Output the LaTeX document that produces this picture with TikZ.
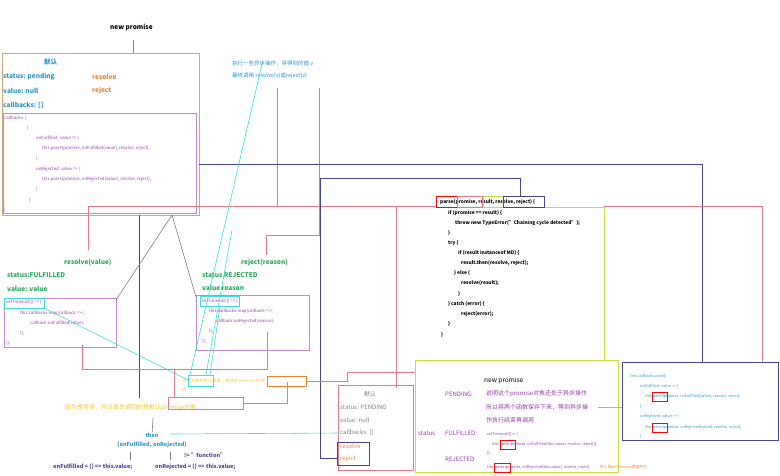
\documentclass[tikz,border=0pt]{standalone}
\usepackage{fontspec}
\setmainfont{Noto Sans CJK SC}
\usepackage{tikz}
\usetikzlibrary{positioning}
\definecolor{tblue}{RGB}{40,150,200}
\definecolor{torange}{RGB}{235,130,50}
\definecolor{tgreen}{RGB}{40,170,90}
\definecolor{tpurple}{RGB}{150,60,170}
\definecolor{tnavy}{RGB}{70,70,150}
\definecolor{tpink}{RGB}{225,120,140}
\definecolor{tcyan}{RGB}{60,220,220}
\definecolor{tlime}{RGB}{200,220,60}
\definecolor{tgold}{RGB}{245,200,40}
\begin{document}
\begin{tikzpicture}[x=1pt,y=-1pt]
  \tikzset{TextStyle/.style = {
    anchor     = west,
    inner sep  = 0pt,
    font       = \fontsize{6.5}{7}\selectfont\bfseries
    }
  }
  \tikzset{CodeStyle/.style = {
    anchor     = west,
    inner sep  = 0pt,
    text       = tpurple,
    font       = \fontsize{4.3}{5}\selectfont
    }
  }
  \tikzset{ParseStyle/.style = {
    anchor     = west,
    inner sep  = 0pt,
    text       = black,
    font       = \fontsize{4.8}{5}\selectfont\bfseries
    }
  }
  \tikzset{BoxStyle/.style = {
    draw       = #1,
    line width = 0.6pt
    }
  }
  \tikzset{LineStyle/.style = {
    draw       = #1,
    line width = 0.6pt
    }
  }
  \useasboundingbox (0,0) rectangle (780,475);

  % top left promise
  \node[TextStyle](NP) at (110,27) {new promise};
  \draw[BoxStyle=brown!70] (2,53) rectangle (199,215);
  \coordinate (NPtop) at (133,53);
  \draw[LineStyle=gray] (133,40) -- (NPtop);
  \node[TextStyle,text=tblue](D1) at (44,62) {默认};
  \node[TextStyle,text=tblue](S1) at (3,77) {status:  pending};
  \node[TextStyle,text=tblue](V1) at (3,91) {value:  null};
  \node[TextStyle,text=tblue](C1) at (3,105) {callbacks:  []};
  \node[TextStyle,text=torange](R1) at (92,77) {resolve};
  \node[TextStyle,text=torange](J1) at (92,91) {reject};
  \draw[BoxStyle=tpurple!60] (3,113) rectangle (196,213);
  \node[CodeStyle] at (4,118) {callbacks: [};
  \node[CodeStyle] at (27,128) {\{};
  \node[CodeStyle] at (36,138) {onFulfilled: value => \{};
  \node[CodeStyle] at (42,148) {this.parse(promise, onFulfilled(value), resolve, reject);};
  \node[CodeStyle] at (36,158) {\},};
  \node[CodeStyle] at (36,169) {onRejected: value => \{};
  \node[CodeStyle] at (42,179) {this.parse(promise, onRejected(value), resolve, reject);};
  \node[CodeStyle] at (36,189) {\}};
  \node[CodeStyle] at (29,200) {\}};
  \node[CodeStyle] at (4,210) {]};

  % async note
  \node[TextStyle,text=tblue,font=\fontsize{5.5}{6}\selectfont](AS1) at (232,63) {执行一些异步操作，将得到的值 v};
  \node[TextStyle,text=tblue,font=\fontsize{5.5}{6}\selectfont](AS2) at (232,76) {最终调用 resolve(v)或reject(v)};

  % fulfilled
  \node[TextStyle,text=tgreen](RV) at (64,262) {resolve(value)};
  \node[TextStyle,text=tgreen](SF) at (7,275) {status:FULFILLED};
  \node[TextStyle,text=tgreen](VF) at (7,289) {value:   value};
  \draw[BoxStyle=tpurple!60] (4,298) rectangle (116,347);
  \draw[BoxStyle=tcyan] (4,298) rectangle (44,308);
  \node[CodeStyle] at (6,302) {setTimeout(() => \{};
  \node[CodeStyle] at (20,313) {this.callbacks.map(callback => \{};
  \node[CodeStyle] at (30,323) {callback.onFulfilled(value);};
  \node[CodeStyle] at (20,333) {\});};
  \node[CodeStyle] at (6,343) {\});};

  % rejected
  \node[TextStyle,text=tgreen](RR) at (241,262) {reject(reason)};
  \node[TextStyle,text=tgreen](SR) at (202,275) {status REJECTED};
  \node[TextStyle,text=tgreen](VR) at (202,288) {value reason};
  \draw[BoxStyle=tpurple!60] (196,295) rectangle (309,350);
  \draw[BoxStyle=tcyan] (200,296) rectangle (239,306);
  \node[CodeStyle] at (202,301) {setTimeout(() => \{};
  \node[CodeStyle] at (209,311) {this.callbacks.map(callback => \{};
  \node[CodeStyle] at (216,321) {callback.onRejected(reason);};
  \node[CodeStyle] at (209,331) {\});};
  \node[CodeStyle] at (202,341) {\});};

  % centre notes
  \draw[BoxStyle=tcyan] (188,375) rectangle (213,386);
  \node[CodeStyle,text=tgold](NT) at (182,381) {当以下操作执行结束，将决定 promise 的状};
  \node[CodeStyle,text=tgold] at (182,390) {态};
  \draw[BoxStyle=torange] (267,376) rectangle (306,386);
  \draw[BoxStyle=tpink] (168,397) rectangle (243,409);
  \node[TextStyle,text=tgold,font=\fontsize{6}{6}\selectfont](AY) at (65,408) {因为是异步，所以首先返回的是默认promise对象};

  % then
  \node[TextStyle,text=tblue,font=\fontsize{5.5}{6}\selectfont\bfseries,anchor=center](TH) at (152,435) {then};
  \node[TextStyle,text=tblue,font=\fontsize{5.5}{6}\selectfont\bfseries,anchor=center](TA) at (152,445) {(onFulfilled, onRejected)};
  \node[TextStyle,text=tnavy,font=\fontsize{5.5}{6}\selectfont\bfseries](NF) at (184,455) {!= "function"};
  \node[TextStyle,text=tnavy,font=\fontsize{5.5}{6}\selectfont\bfseries](OF) at (53,467) {onFulfilled = () => this.value;};
  \node[TextStyle,text=tnavy,font=\fontsize{5.5}{6}\selectfont\bfseries](OR) at (155,467) {onRejected = () => this.value;};
  \draw[LineStyle=gray] (153,418) -- (TH);
  \draw[LineStyle=gray] (130,452) -- (130,460);
  \draw[LineStyle=gray] (170,452) -- (170,460);

  % default promise box
  \draw[BoxStyle=tpink] (338,385) rectangle (413,470);
  \node[TextStyle,font=\fontsize{6}{6}\selectfont,text=gray,anchor=center](D2) at (370,394) {默认};
  \node[TextStyle,font=\fontsize{6}{6}\selectfont,text=gray](S2) at (340,407) {status: PENDING};
  \node[TextStyle,font=\fontsize{6}{6}\selectfont,text=gray](V2) at (340,420) {value: null};
  \node[TextStyle,font=\fontsize{6}{6}\selectfont,text=gray](C2) at (340,433) {callbacks: []};
  \node[TextStyle,font=\fontsize{6}{6}\selectfont,text=torange](R2) at (340,446) {resolve};
  \node[TextStyle,font=\fontsize{6}{6}\selectfont,text=torange](J2) at (340,459) {reject};
  \draw[BoxStyle=tnavy] (337,442) rectangle (369,465);
  \draw[LineStyle=tcyan] (170,434) -- (C2.west);

  % parse code
  \draw[LineStyle=tlime] (493,207) -- (604,207) -- (604,360);
  \node[ParseStyle](PA) at (440,202) {parse(promise, result, resolve, reject) \{};
  \draw[BoxStyle=red] (436,196) rectangle (457,207);
  \draw[BoxStyle=tpink] (457,196) rectangle (482,207);
  \draw[BoxStyle=tlime] (483,196) rectangle (503,207);
  \draw[BoxStyle=tnavy] (503,196) rectangle (544,207);
  \node[ParseStyle] at (448,213) {if (promise == result) \{};
  \node[ParseStyle] at (455,223) {throw new TypeError("Chaining cycle detected");};
  \node[ParseStyle] at (448,233) {\}};
  \node[ParseStyle] at (448,243) {try \{};
  \node[ParseStyle] at (458,253) {if (result instanceof MD) \{};
  \node[ParseStyle] at (461,263) {result.then(resolve, reject);};
  \node[ParseStyle] at (454,273) {\} else \{};
  \node[ParseStyle] at (461,283) {resolve(result);};
  \node[ParseStyle] at (458,294) {\}};
  \node[ParseStyle] at (448,304) {\} catch (error) \{};
  \node[ParseStyle] at (461,314) {reject(error);};
  \node[ParseStyle] at (448,324) {\}};
  \node[ParseStyle] at (441,335) {\}};

  % new promise explanation
  \draw[BoxStyle=tlime] (415,360) rectangle (618,472);
  \node[TextStyle,font=\fontsize{6.5}{6}\selectfont,text=black](NP2) at (484,381) {new promise};
  \node[TextStyle,font=\fontsize{6}{6}\selectfont,text=tpurple] at (445,394) {PENDING:};
  \node[TextStyle,font=\fontsize{6}{6}\selectfont,text=tpurple] at (486,394) {说明这个promise对象还处于异步操作};
  \node[TextStyle,font=\fontsize{6}{6}\selectfont,text=tpurple] at (486,407) {所以将两个函数保存下来，等到异步操};
  \node[TextStyle,font=\fontsize{6}{6}\selectfont,text=tpurple] at (486,420) {作执行结束再调用};
  \node[TextStyle,font=\fontsize{6}{6}\selectfont,text=tpurple] at (418,433) {status};
  \node[TextStyle,font=\fontsize{6}{6}\selectfont,text=tpurple] at (445,433) {FULFILLED:};
  \node[CodeStyle,font=\fontsize{3.8}{4}\selectfont] at (487,434) {setTimeout(() => \{};
  \node[CodeStyle,font=\fontsize{3.8}{4}\selectfont] at (492,444) {this.parse(promise, onFulfilled(this.value), resolve, reject)\});};
  \draw[BoxStyle=red] (500,440) rectangle (515,449);
  \node[CodeStyle,font=\fontsize{3.8}{4}\selectfont] at (487,453) {\});};
  \node[TextStyle,font=\fontsize{6}{6}\selectfont,text=tpurple] at (445,459) {REJECTED};
  \node[CodeStyle,font=\fontsize{3.8}{4}\selectfont] at (487,467) {this.parse(promise, onRejected(this.value), resolve, reject)};
  \node[CodeStyle,font=\fontsize{3.8}{4}\selectfont,text=torange] at (600,467) {把上面setTimeout里面的代};
  \draw[BoxStyle=red] (494,463) rectangle (510,472);

  % callbacks push box
  \draw[BoxStyle=tnavy,line width=1pt] (622,362) rectangle (778,440);
  \node[CodeStyle,text=tblue,font=\fontsize{3.8}{4}\selectfont] at (630,376) {this.callbacks.push(\{};
  \node[CodeStyle,text=tblue,font=\fontsize{3.8}{4}\selectfont] at (640,386) {onFulfilled: value => \{};
  \node[CodeStyle,text=tblue,font=\fontsize{3.8}{4}\selectfont] at (645,396) {this.parse(promise, onFulfilled(value), resolve, reject);};
  \draw[BoxStyle=red] (652,392) rectangle (667,401);
  \node[CodeStyle,text=tblue,font=\fontsize{3.8}{4}\selectfont] at (640,406) {\},};
  \node[CodeStyle,text=tblue,font=\fontsize{3.8}{4}\selectfont] at (640,416) {onRejected: value => \{};
  \node[CodeStyle,text=tblue,font=\fontsize{3.8}{4}\selectfont] at (645,427) {this.parse(promise, onRejected(value), resolve, reject);};
  \draw[BoxStyle=red] (652,423) rectangle (667,432);
  \node[CodeStyle,text=tblue,font=\fontsize{3.8}{4}\selectfont] at (640,436) {\}};
  \draw[LineStyle=tblue!60] (598,407) -- (622,407);

  % connectors
  \draw[LineStyle=tpink] (277,88) -- (277,206) -- (88,206) -- (88,250);
  \draw[LineStyle=tpink] (277,206) -- (436,206);
  \draw[LineStyle=tpink] (319,88) -- (319,235) -- (266,235) -- (266,255);
  \draw[LineStyle=tnavy] (199,164) -- (702,164) -- (702,362);
  \draw[LineStyle=tnavy] (520,178) -- (320,178) -- (320,458) -- (337,458);
  \draw[LineStyle=tnavy] (520,178) -- (520,196);
  \draw[LineStyle=black!70] (139,215) -- (139,398);
  \draw[LineStyle=gray] (172,215) -- (116,300);
  \draw[LineStyle=gray] (172,215) -- (196,297);
  \draw[LineStyle=tcyan] (262,64) -- (190,375);
  \draw[LineStyle=tcyan] (232,230) -- (206,375);
  \draw[LineStyle=tcyan] (220,306) -- (210,375);
  \draw[LineStyle=tcyan] (44,308) -- (188,380);
  \draw[LineStyle=tpink] (82,345) -- (82,369) -- (267,369) -- (267,332);
  \draw[LineStyle=tpink] (174,369) -- (174,397);
  \draw[LineStyle=tpink] (306,381) -- (347,381) -- (347,372) -- (415,372);
  \draw[LineStyle=tpink] (243,403) -- (287,403) -- (287,382);
  \draw[LineStyle=tpink] (396,206) -- (396,388);
  \draw[LineStyle=tpink] (762,206) -- (762,362);
  \draw[LineStyle=tpink] (604,206) -- (762,206);
\end{tikzpicture}
\end{document}
